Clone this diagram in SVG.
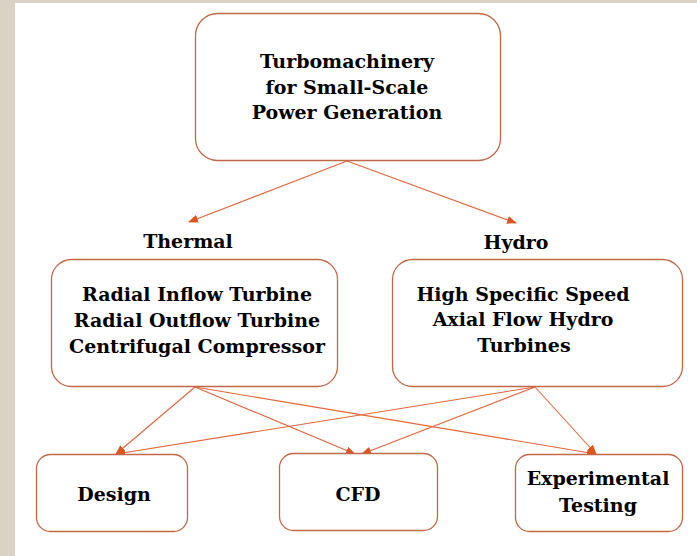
<svg xmlns="http://www.w3.org/2000/svg" width="697" height="556" viewBox="0 0 697 556">
<style>
.bg{fill:#dad2c4}
.box{fill:#ffffff;stroke:#c06848;stroke-width:1.3}
.t{font-family:"DejaVu Serif","Liberation Serif",serif;font-weight:bold;font-size:19px;fill:#000;text-anchor:middle}
.c{fill:none;stroke:#e2663c;stroke-width:1.1}
</style>
<defs>
<marker id="ah" markerWidth="10" markerHeight="8" refX="9" refY="4" orient="auto" markerUnits="userSpaceOnUse">
<path d="M0,0 L10,4 L0,8 Z" fill="#e0541e"/>
</marker>
</defs>
<rect class="bg" x="0" y="0" width="697" height="556"/>
<rect x="15" y="3" width="682" height="553" fill="#ffffff"/>

<g id="connectors">
<line class="c" x1="347" y1="161" x2="189" y2="222" marker-end="url(#ah)"/>
<line class="c" x1="347" y1="161" x2="516" y2="223" marker-end="url(#ah)"/>
<line class="c" x1="195" y1="387" x2="116" y2="454" marker-end="url(#ah)"/>
<line class="c" x1="195" y1="387" x2="355" y2="454" marker-end="url(#ah)"/>
<line class="c" x1="195" y1="387" x2="596" y2="454" marker-end="url(#ah)"/>
<line class="c" x1="535" y1="387" x2="116" y2="454" marker-end="url(#ah)"/>
<line class="c" x1="535" y1="387" x2="362" y2="454" marker-end="url(#ah)"/>
<line class="c" x1="535" y1="387" x2="596" y2="454" marker-end="url(#ah)"/>
</g>

<g id="root">
<rect class="box" x="195.5" y="13.5" width="305" height="147" rx="22"/>
<text class="t" x="347" y="68">Turbomachinery</text>
<text class="t" x="347" y="94">for Small-Scale</text>
<text class="t" x="347" y="119">Power Generation</text>
</g>

<g id="thermal-label"><text class="t" x="188" y="248">Thermal</text></g>
<g id="hydro-label"><text class="t" x="516" y="249">Hydro</text></g>

<g id="thermal">
<rect class="box" x="51.5" y="259.5" width="286" height="127" rx="20"/>
<text class="t" x="197" y="301">Radial Inflow Turbine</text>
<text class="t" x="197" y="327">Radial Outflow Turbine</text>
<text class="t" x="197" y="353">Centrifugal Compressor</text>
</g>

<g id="hydro">
<rect class="box" x="392.5" y="259.5" width="290" height="127" rx="20"/>
<text class="t" x="523" y="301">High Specific Speed</text>
<text class="t" x="523" y="326">Axial Flow Hydro</text>
<text class="t" x="524" y="352">Turbines</text>
</g>

<g id="design">
<rect class="box" x="36.5" y="454.5" width="151" height="77" rx="14"/>
<text class="t" x="114" y="501">Design</text>
</g>

<g id="cfd">
<rect class="box" x="279.5" y="453.5" width="158" height="77" rx="14"/>
<text class="t" x="358" y="501">CFD</text>
</g>

<g id="experimental">
<rect class="box" x="515.5" y="454.5" width="167" height="77" rx="14"/>
<text class="t" x="598" y="485">Experimental</text>
<text class="t" x="598" y="512">Testing</text>
</g>
</svg>
